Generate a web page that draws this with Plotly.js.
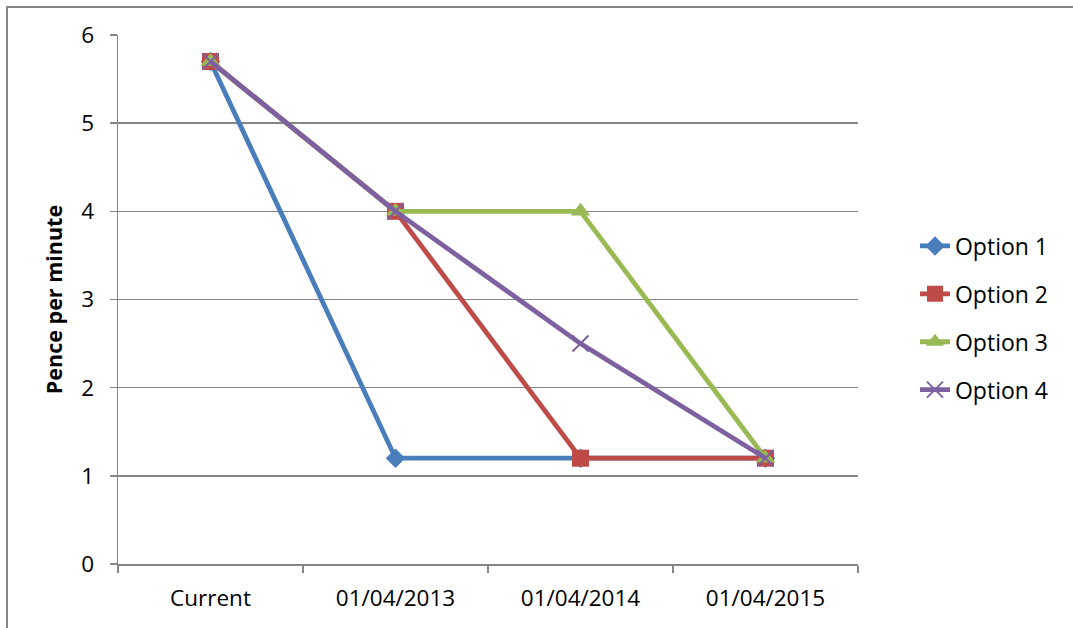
<!DOCTYPE html>
<html>
<head>
<meta charset="utf-8">
<script src="https://cdn.plot.ly/plotly-3.0.1.min.js"></script>
<style>
html,body{margin:0;padding:0;background:#fff;overflow:hidden;}
#frame{position:absolute;left:6px;top:6px;width:1200px;height:800px;border-left:2px solid #868686;border-top:2px solid #868686;box-sizing:border-box;}
#chart{position:absolute;left:0;top:0;width:1073px;height:628px;}
</style>
</head>
<body>
<div id="frame"></div>
<div id="chart"></div>
<script>
var categories = ["Current", "01/04/2013", "01/04/2014", "01/04/2015"];
var option1 = [5.7, 1.2, 1.2, 1.2];
var option2 = [5.7, 4.0, 1.2, 1.2];
var option3 = [5.7, 4.0, 4.0, 1.2];
var option4 = [5.7, 4.0, 2.5, 1.2];
var seriesNames = ["Option 1", "Option 2", "Option 3", "Option 4"];
var colors = ["#4A7EBB", "#BE4B48", "#98B954", "#7D60A0"];
var symbols = ["diamond", "square", "triangle-up", "x-thin"];
var sizes = [15, 17, 17, 16];
var series = [option1, option2, option3, option4];

var traces = series.map(function(vals, i) {
  var m = {symbol: symbols[i], size: sizes[i], color: colors[i]};
  if (symbols[i] === "x-thin") m.line = {color: colors[i], width: 2};
  return {
    x: categories, y: vals, name: seriesNames[i], type: "scatter", mode: "lines+markers",
    legendgroup: "g" + i,
    line: {color: colors[i], width: 4.8},
    marker: m
  };
});

var font = "'Open Sans', 'Liberation Sans', sans-serif";
var gray = "#868686";
var layout = {
  width: 1073, height: 628,
  margin: {l: 118, r: 215, t: 35, b: 64},
  paper_bgcolor: "rgba(0,0,0,0)", plot_bgcolor: "rgba(0,0,0,0)",
  font: {family: font, size: 22, color: "#000"},
  showlegend: true,
  legend: {x: 1.077, xanchor: "left", y: 0.465, yanchor: "middle", tracegroupgap: 15,
           font: {size: 23, family: font}, bgcolor: "rgba(0,0,0,0)"},
  xaxis: {
    type: "category", showgrid: false, showline: true, linecolor: gray, linewidth: 1.5,
    ticks: "outside", tickson: "boundaries", ticklen: 7, tickcolor: gray, tickwidth: 1.5,
    tickfont: {size: 22.5}, zeroline: false, range: [-0.5, 3.5], ticklabelstandoff: 13
  },
  yaxis: {
    range: [0, 6], dtick: 1, showgrid: true, gridcolor: gray, gridwidth: 1.5,
    showline: true, linecolor: gray, linewidth: 1.5,
    ticks: "outside", ticklen: 7, tickcolor: gray, tickwidth: 1.5,
    tickfont: {size: 22.5}, zeroline: false, ticklabelstandoff: 11,
    title: {text: "<b>Pence per minute</b>", font: {size: 21.5}, standoff: 12}
  }
};

Plotly.newPlot("chart", traces, layout, {displayModeBar: false, staticPlot: true});
</script>
</body>
</html>
